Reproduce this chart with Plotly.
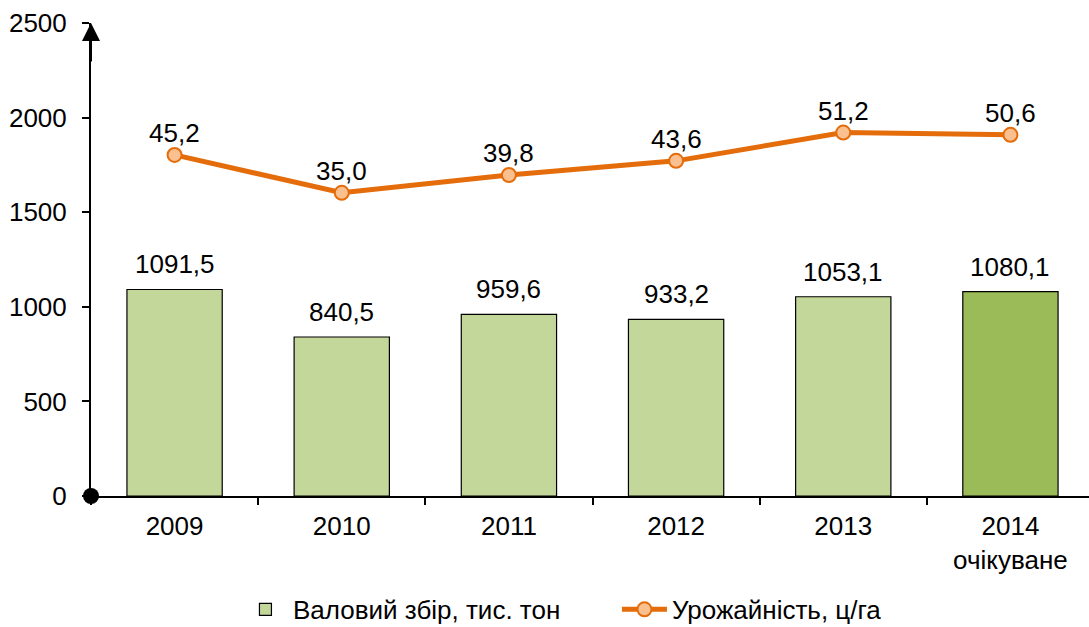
import plotly.graph_objects as go

# Data
categories = ["2009", "2010", "2011", "2012", "2013", "2014<br>очікуване"]
gross_harvest = [1091.5, 840.5, 959.6, 933.2, 1053.1, 1080.1]   # тис. тон
yield_values = [45.2, 35.0, 39.8, 43.6, 51.2, 50.6]             # ц/га
y_ticks = [0, 500, 1000, 1500, 2000, 2500]

FONT = "Liberation Sans, Arial, sans-serif"
FS = 26
BAR_LIGHT = "#C4D79B"
BAR_DARK = "#9BBB59"
LINE = "#E46C0A"
MARKER_FILL = "#FAC090"


def fmt(v):
    return f"{v:.1f}".replace(".", ",")


bar_colors = [BAR_LIGHT] * (len(categories) - 1) + [BAR_DARK]

fig = go.Figure()

fig.add_trace(go.Bar(
    x=categories, y=gross_harvest, name="Валовий збір, тис. тон",
    width=0.57,
    marker=dict(color=bar_colors, line=dict(color="#000000", width=1.2)),
    hoverinfo="skip",
))

fig.add_trace(go.Scatter(
    x=categories, y=yield_values, name="Урожайність, ц/га", yaxis="y2",
    mode="lines+markers",
    line=dict(color=LINE, width=5),
    marker=dict(size=14, color=MARKER_FILL, line=dict(color=LINE, width=2)),
    cliponaxis=False,
    hoverinfo="skip",
))

annotations = []
# value labels (x given as category index)
for i, v in enumerate(gross_harvest):
    annotations.append(dict(x=i, y=v, xref="x", yref="y", text=fmt(v),
                            showarrow=False, yanchor="bottom", yshift=8,
                            font=dict(size=FS, color="#000000", family=FONT)))
for i, v in enumerate(yield_values):
    annotations.append(dict(x=i, y=v, xref="x", yref="y2", text=fmt(v),
                            showarrow=False, yanchor="bottom", yshift=5,
                            font=dict(size=FS, color="#000000", family=FONT)))

# arrow head on top of the value axis
annotations.append(dict(x=0, y=2500, xref="paper", yref="y", text="",
                        showarrow=True, ax=0, ay=40, axref="pixel", ayref="pixel",
                        arrowhead=2, arrowsize=1.8, arrowwidth=2,
                        arrowcolor="#000000", standoff=0))

fig.update_layout(
    width=1089, height=627,
    margin=dict(l=91, r=0, t=23, b=131),
    paper_bgcolor="#FFFFFF", plot_bgcolor="#FFFFFF",
    font=dict(family=FONT, size=FS, color="#000000"),
    showlegend=True,
    legend=dict(orientation="h", x=0.2185, xref="container", xanchor="left",
                y=0.028, yref="container", yanchor="middle",
                font=dict(size=FS), itemwidth=45, entrywidth=319,
                traceorder="normal"),
    xaxis=dict(type="category", range=[-0.5, 5.47], showline=True,
               linecolor="#000000", linewidth=2, ticks="outside",
               tickson="boundaries", ticklen=7, tickwidth=2, tickcolor="#000000",
               showgrid=False, zeroline=False, fixedrange=True,
               ticklabelstandoff=6),
    yaxis=dict(range=[0, 2500], tickvals=y_ticks, showline=True,
               linecolor="#000000", linewidth=2, ticks="outside", ticklen=7,
               tickwidth=2, tickcolor="#000000", showgrid=False, zeroline=False,
               ticklabelstandoff=10, fixedrange=True),
    yaxis2=dict(range=[-46.6, 80.7], overlaying="y", visible=False,
                fixedrange=True),
    annotations=annotations,
    shapes=[dict(type="circle", xref="paper", yref="paper",
                 xsizemode="pixel", ysizemode="pixel", xanchor=0, yanchor=0,
                 x0=-8, x1=8, y0=-8, y1=8,
                 fillcolor="#000000", line=dict(color="#000000", width=0),
                 layer="above")],
    bargap=0.43,
)

fig.write_html("out.html", config={"displayModeBar": False})
